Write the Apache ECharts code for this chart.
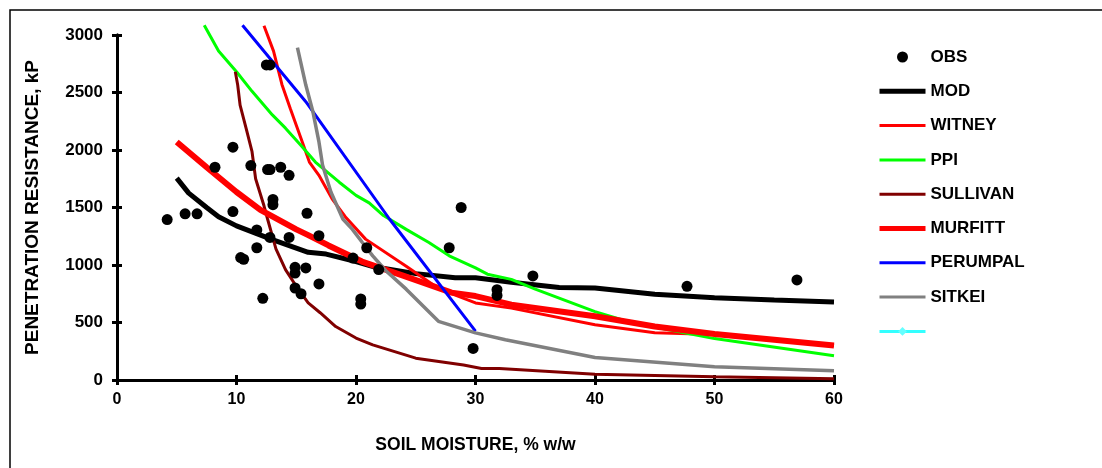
<!DOCTYPE html>
<html lang="en">
<head>
    <meta charset="UTF-8">
    <title>Penetration resistance vs soil moisture</title>
    <style>
        body{
           margin: 0;
           background: #fff;
        }
        #main {
            width: 1102px;
            height: 468px;
        }
    </style>
</head>
<body>
    <div id="main"></div>
    <script src="https://cdn.jsdelivr.net/npm/echarts@6/dist/echarts.min.js"></script>
    <script>
        // observed points: soil moisture (% w/w) and resistance (kP)
        var obsMoisture = [4.2, 5.7, 6.7, 8.2, 9.7, 9.7, 10.35, 10.6, 11.2, 11.7, 11.7, 12.2, 12.5, 12.8,
            12.6, 12.8, 12.8, 13.05, 13.05, 13.7, 14.4, 14.4, 14.9, 14.9, 14.9, 15.4, 15.8, 15.9,
            16.9, 16.9, 19.75, 20.4, 20.4, 20.9, 21.9, 27.8, 28.8, 29.8, 31.8, 31.8, 34.8, 47.7, 56.9]
        var obsResistance = [1395, 1445, 1445, 1850, 2025, 1465, 1065, 1050, 1865, 1305, 1150, 710, 2740, 2740,
            1830, 1830, 1240, 1570, 1525, 1850, 1780, 1240, 980, 930, 800, 750, 975, 1450,
            1255, 835, 1060, 705, 660, 1150, 960, 1150, 1500, 275, 785, 735, 905, 815, 870]

        // model curves as [moisture, resistance]
        var mod = [[5, 1755], [6, 1625], [7.5, 1500], [8.5, 1420], [10, 1340], [13, 1220], [16, 1110],
            [17.5, 1095], [20, 1030], [21.5, 985], [25, 925], [28.3, 890], [30, 890], [33, 850],
            [37, 805], [40, 800], [45, 745], [50, 715], [55, 695], [60, 678]]
        var witney = [[12.3, 3080], [13.1, 2860], [13.8, 2570], [14.5, 2360], [15.4, 2100], [16.1, 1895],
            [16.9, 1780], [18, 1575], [19.1, 1420], [20.8, 1225], [24.2, 990], [27, 790], [30, 670],
            [33, 625], [40, 480], [45, 410], [50, 395], [60, 300]]
        var ppi = [[7.3, 3085], [8.5, 2860], [10, 2680], [11.3, 2510], [13, 2305], [14.1, 2190],
            [15.4, 2040], [16.6, 1895], [18.6, 1720], [20, 1605], [21.1, 1540], [22.3, 1430],
            [24.2, 1310], [26.1, 1195], [27.8, 1080], [30, 975], [31, 920], [33, 875], [35, 790],
            [40, 595], [43, 500], [50, 360], [60, 210]]
        var sullivan = [[9.9, 2680], [10.1, 2565], [10.3, 2390], [10.8, 2190], [11.3, 1985], [11.6, 1750],
            [12.3, 1515], [12.6, 1400], [13.3, 1140], [14.1, 960], [15, 815], [16, 670], [17, 585],
            [18.3, 465], [20, 365], [21.4, 305], [25, 190], [29, 130], [30.5, 100], [32, 100],
            [40, 50], [50, 28], [60, 10]]
        var murfitt = [[5, 2070], [7.5, 1850], [10, 1635], [12, 1480], [15, 1310], [16, 1260],
            [17.7, 1170], [20.5, 1030], [24, 905], [28, 760], [30, 730], [33, 655], [40, 555],
            [45, 465], [50, 400], [60, 300]]
        var perumpal = [[10.5, 3085], [15.8, 2420], [22.8, 1400], [30, 425]]
        var sitkei = [[15.1, 2890], [15.8, 2565], [16.4, 2330], [16.9, 2070], [17.2, 1870],
            [17.9, 1635], [18.9, 1400], [19.7, 1310], [20.5, 1200], [21.4, 1080], [22.5, 950],
            [24.2, 790], [26.9, 510], [30, 410], [32.5, 350], [40, 195], [50, 115], [60, 80]]

        var xTicks = [0, 10, 20, 30, 40, 50, 60]
        var yTicks = [0, 500, 1000, 1500, 2000, 2500, 3000]

        var font = 'Liberation Sans, Arial, sans-serif'
        var myChart = echarts.init(document.getElementById('main'))

        function obsData() {
            var out = []
            for (var i = 0; i < obsMoisture.length; i++) {
                out.push([obsMoisture[i], obsResistance[i]])
            }
            return out
        }

        function curve(name, data, color, width) {
            return {
                name: name,
                type: 'line',
                data: data,
                showSymbol: false,
                symbol: 'none',
                smooth: false,
                clip: false,
                lineStyle: { color: color, width: width },
                itemStyle: { color: color },
                z: 2
            }
        }

        // legend entry for a plain line: hide the marker, keep the stroke width
        function lineEntry(name, width) {
            return { name: name, itemStyle: { opacity: 0 }, lineStyle: { width: width } }
        }

        function axisX(showLabels, inside) {
            return {
                type: 'value',
                position: 'bottom',
                min: xTicks[0],
                max: xTicks[xTicks.length - 1],
                interval: 10,
                name: showLabels ? 'SOIL MOISTURE, % w/w' : '',
                nameLocation: 'middle',
                nameGap: 56,
                nameTextStyle: { fontFamily: font, fontWeight: 'bold', fontSize: 17.5, color: '#000' },
                axisLine: { show: true, lineStyle: { color: '#000', width: 3 } },
                axisTick: { show: true, inside: inside, length: 5, lineStyle: { color: '#000', width: 3 } },
                axisLabel: { show: showLabels, margin: 12, fontFamily: font, fontWeight: 'bold', fontSize: 16, color: '#000' },
                splitLine: { show: false }
            }
        }

        function axisY(showLabels, inside) {
            return {
                type: 'value',
                position: 'left',
                min: yTicks[0],
                max: yTicks[yTicks.length - 1],
                interval: 500,
                name: showLabels ? 'PENETRATION RESISTANCE, kP' : '',
                nameLocation: 'middle',
                nameGap: 75,
                nameTextStyle: { fontFamily: font, fontWeight: 'bold', fontSize: 19, color: '#000' },
                axisLine: { show: true, lineStyle: { color: '#000', width: 3 } },
                axisTick: { show: true, inside: inside, length: 5, lineStyle: { color: '#000', width: 3 } },
                axisLabel: {
                    show: showLabels, margin: 14, fontFamily: font, fontWeight: 'bold', fontSize: 17, color: '#000',
                    formatter: function(v) { return String(v) }
                },
                splitLine: { show: false }
            }
        }

        var option = {
            backgroundColor: '#fff',
            animation: false,
            grid: { left: 117, right: 268, top: 35, bottom: 88, containLabel: false },
            xAxis: [axisX(true, false), axisX(false, true)],
            yAxis: [axisY(true, false), axisY(false, true)],
            legend: {
                orient: 'vertical',
                left: 877,
                top: 47,
                padding: 0,
                itemWidth: 46,
                itemHeight: 11,
                itemGap: 14.3,
                textStyle: { fontFamily: font, fontWeight: 'bold', fontSize: 17, color: '#000', lineHeight: 20 },
                data: [
                    { name: 'OBS' },
                    lineEntry('MOD', 5),
                    lineEntry('WITNEY', 3),
                    lineEntry('PPI', 3),
                    lineEntry('SULLIVAN', 3),
                    lineEntry('MURFITT', 5),
                    lineEntry('PERUMPAL', 3),
                    lineEntry('SITKEI', 3),
                    { name: ' ', lineStyle: { width: 3 } }
                ]
            },
            graphic: [{
                type: 'rect',
                shape: { x: 10, y: 10, width: 1200, height: 600 },
                style: { fill: 'none', stroke: '#000', lineWidth: 1.5 },
                silent: true
            }],
            series: [
                {
                    name: 'OBS',
                    type: 'scatter',
                    data: obsData(),
                    symbol: 'circle',
                    symbolSize: 11,
                    itemStyle: { color: '#000', opacity: 1 },
                    z: 5
                },
                curve('MOD', mod, '#000', 5),
                curve('WITNEY', witney, '#ff0000', 3),
                curve('PPI', ppi, '#00ff00', 3),
                curve('SULLIVAN', sullivan, '#800000', 3),
                curve('MURFITT', murfitt, '#ff0000', 6),
                curve('PERUMPAL', perumpal, '#0000ff', 3),
                curve('SITKEI', sitkei, '#808080', 3.5),
                {
                    name: ' ',
                    type: 'line',
                    data: [],
                    symbol: 'diamond',
                    symbolSize: 10,
                    lineStyle: { color: '#33ffff', width: 3 },
                    itemStyle: { color: '#66ffff' }
                }
            ]
        }
        myChart.setOption(option)
    </script>
</body>
</html>
